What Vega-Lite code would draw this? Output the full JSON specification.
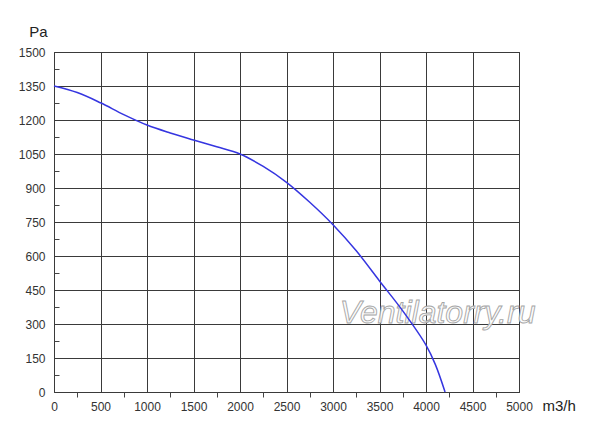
{
  "$schema": "https://vega.github.io/schema/vega-lite/v6.json",
  "width": 465,
  "height": 340,
  "autosize": {"type": "none"},
  "padding": {"left": 54, "top": 52, "right": 81, "bottom": 34},
  "background": "white",
  "config": {
    "view": {"stroke": "#222", "strokeWidth": 1},
    "axis": {
      "labelFont": "Liberation Sans",
      "labelFontSize": 12,
      "labelColor": "#333",
      "titleFont": "Liberation Sans",
      "titleFontSize": 15,
      "titleFontWeight": "normal",
      "titleColor": "#222",
      "domain": false,
      "gridColor": "#3a3a3a",
      "gridWidth": 1,
      "tickColor": "#444",
      "tickWidth": 1
    }
  },
  "datasets": {
    "curve": [
      {"flow": 0, "pressure": 1350},
      {"flow": 250, "pressure": 1321},
      {"flow": 500, "pressure": 1276},
      {"flow": 750, "pressure": 1224},
      {"flow": 1000, "pressure": 1178},
      {"flow": 1250, "pressure": 1143},
      {"flow": 1500, "pressure": 1112},
      {"flow": 1750, "pressure": 1082},
      {"flow": 2000, "pressure": 1050},
      {"flow": 2250, "pressure": 995},
      {"flow": 2500, "pressure": 925},
      {"flow": 2750, "pressure": 837},
      {"flow": 3000, "pressure": 738},
      {"flow": 3250, "pressure": 623},
      {"flow": 3500, "pressure": 490},
      {"flow": 3750, "pressure": 358},
      {"flow": 4000, "pressure": 207},
      {"flow": 4100, "pressure": 122},
      {"flow": 4205, "pressure": 0}
    ],
    "mark": [
      {"label": "Ventilatorry.ru", "flow": 4125, "pressure": 305}
    ]
  },
  "layer": [
    {
      "data": {"name": "mark"},
      "mark": {
        "type": "text",
        "font": "Liberation Sans",
        "fontStyle": "italic",
        "fontSize": 32,
        "align": "center",
        "baseline": "alphabetic",
        "fill": "#fcfcfc",
        "fillOpacity": 0.85,
        "stroke": "#a5a5a5",
        "strokeWidth": 0.9
      },
      "encoding": {
        "x": {"field": "flow", "type": "quantitative"},
        "y": {"field": "pressure", "type": "quantitative"},
        "text": {"field": "label"}
      }
    },
    {
      "data": {"name": "curve"},
      "mark": {"type": "line", "color": "#3535e0", "strokeWidth": 1.5, "interpolate": "catmull-rom"},
      "encoding": {
        "x": {
          "field": "flow",
          "type": "quantitative",
          "scale": {"domain": [0, 5000], "nice": false, "zero": true},
          "axis": {
            "title": "m3/h",
            "titleAngle": 0,
            "titleX": 488,
            "titleY": 18,
            "titleAlign": "left",
            "titleBaseline": "alphabetic",
            "values": [0, 250, 500, 750, 1000, 1250, 1500, 1750, 2000, 2250, 2500, 2750, 3000, 3250, 3500, 3750, 4000, 4250, 4500, 4750, 5000],
            "tickCount": 100,
            "format": "d",
            "labelExpr": "datum.value % 500 == 0 ? datum.label : ''",
            "labelBaseline": "top",
            "labelPadding": 9,
            "labelFlush": false,
            "labelOverlap": false,
            "grid": true,
            "gridOpacity": {"condition": {"test": "datum.value % 500 == 0", "value": 1}, "value": 0},
            "ticks": true,
            "tickSize": {"condition": {"test": "datum.value % 500 == 0", "value": 0}, "value": 5}
          }
        },
        "y": {
          "field": "pressure",
          "type": "quantitative",
          "scale": {"domain": [0, 1500], "nice": false},
          "axis": {
            "title": "Pa",
            "titleAngle": 0,
            "titleX": -16,
            "titleY": -16,
            "titleAlign": "center",
            "titleBaseline": "alphabetic",
            "values": [0, 75, 150, 225, 300, 375, 450, 525, 600, 675, 750, 825, 900, 975, 1050, 1125, 1200, 1275, 1350, 1425, 1500],
            "tickCount": 100,
            "format": "d",
            "labelExpr": "datum.value % 150 == 0 ? datum.label : ''",
            "labelPadding": 9,
            "labelFlush": false,
            "labelOverlap": false,
            "grid": true,
            "gridOpacity": {"condition": {"test": "datum.value % 150 == 0", "value": 1}, "value": 0},
            "ticks": true,
            "tickSize": {"condition": {"test": "datum.value % 150 == 0", "value": 0}, "value": -5}
          }
        }
      }
    }
  ]
}
